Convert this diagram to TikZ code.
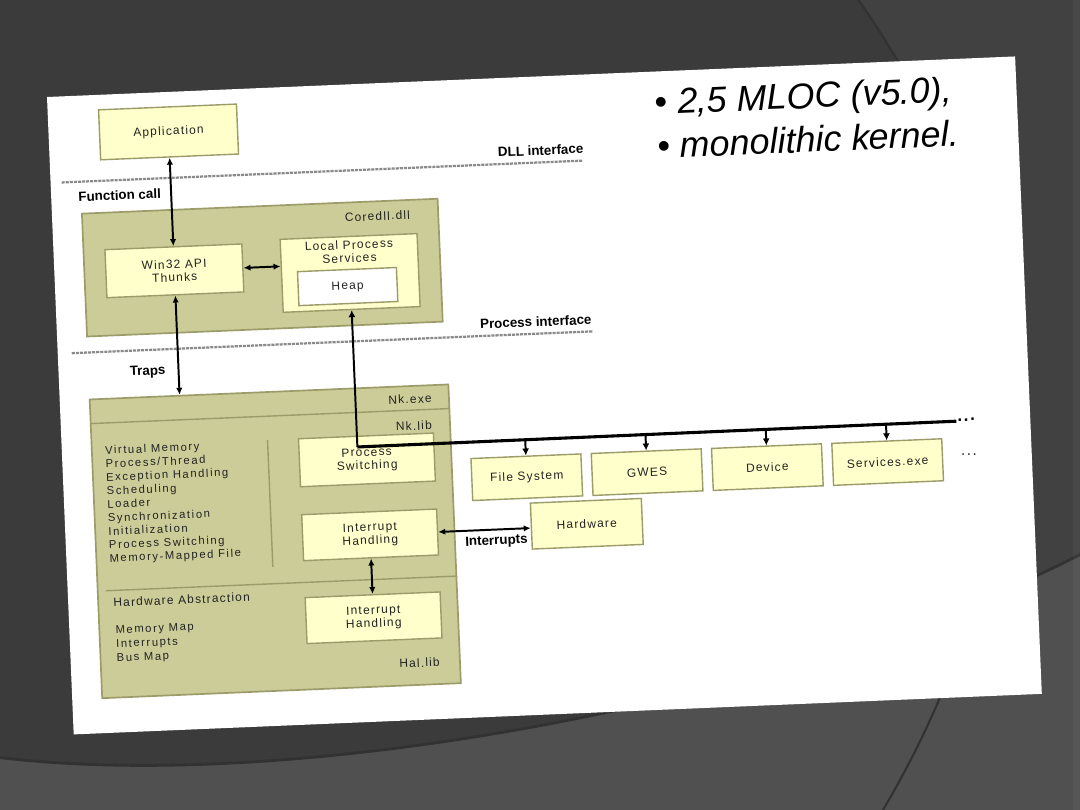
\documentclass[tikz,border=0pt]{standalone}
\usepackage{fontspec}
\setmainfont{Liberation Sans}
\newfontfamily\boxfont[LetterSpace=10]{Liberation Sans}
\newfontfamily\listfont[LetterSpace=14]{Liberation Sans}
\definecolor{WCEbg}{HTML}{3B3B3B}
\definecolor{WCEbgmid}{HTML}{414141}
\definecolor{WCEbglow}{HTML}{505050}
\definecolor{WCEedge}{HTML}{323232}
\definecolor{WCEtan}{HTML}{CCCC99}
\definecolor{WCEcream}{HTML}{FFFFCC}
\definecolor{WCEolive}{HTML}{9C9C6A}
\definecolor{WCEdash}{HTML}{8A8A8A}
\definecolor{WCEtext}{HTML}{222222}
\usetikzlibrary{arrows.meta, calc, positioning}
\tikzset{
  sz/.style 2 args={minimum width=#1*0.025cm, minimum height=#2*0.025cm},
  layerbox/.style={draw=WCEolive, fill=WCEtan, line width=1.2pt, inner sep=0pt},
  modbox/.style={draw=WCEolive, fill=WCEcream, line width=1pt, inner sep=0pt, align=center,
    text=WCEtext, font=\boxfont\fontsize{8.5}{9.4}\selectfont},
  modname/.style={inner sep=0pt, text=WCEtext, font=\boxfont\fontsize{8.5}{9.6}\selectfont},
  iflabel/.style={inner sep=0pt, font=\bfseries\fontsize{9.5}{11}\selectfont},
  iface/.style={WCEdash, line width=1.6pt, dash pattern=on 2.2pt off 0.7pt},
  sepline/.style={draw=WCEolive, line width=1pt},
  dbl/.style={line width=1.4pt, {Latex[length=5pt,width=4.5pt]}-{Latex[length=5pt,width=4.5pt]}},
  call/.style={line width=1.4pt, -{Latex[length=5pt,width=5pt]}},
  bus/.style={line width=2.2pt}
}
\begin{document}
\begin{tikzpicture}[x=0.025cm, y=-0.025cm]
  \useasboundingbox (0,0) rectangle (1080,810);
  % Slide background
  \fill[WCEbg] (-5,-5) rectangle (1085,815);
  \fill[WCEbgmid] (855,-5) .. controls (1000,200) and (1080,480) .. (880,815)
     -- (1085,815) -- (1085,-5) -- cycle;
  \fill[WCEbglow] (-5,757) .. controls (300,795) and (800,700) .. (1085,552)
     -- (1085,815) -- (-5,815) -- cycle;
  \draw[WCEedge, line width=2pt] (-5,757) .. controls (300,795) and (800,700) .. (1085,552);
  \draw[WCEedge, line width=1.5pt] (855,-5) .. controls (1000,200) and (1080,480) .. (880,815);
  \fill[white, opacity=0.04] (1073,-5) rectangle (1085,815);
  % Tilted sheet
  \begin{scope}[shift={(47,97)}, rotate=2.4, transform shape]
    \fill[white] (0,0) rectangle (969,638);
    % Bullets
    \node[anchor=base west, inner sep=0pt, font=\fontsize{25.5}{31}\selectfont] (mlocA) at (607,43)
       {\textbullet{} \textit{2,5 MLOC (v5.0),}};
    \node[anchor=base west, inner sep=0pt, font=\fontsize{25.5}{31}\selectfont] (mlocB) at (608,87)
       {\textbullet{} \textit{monolithic kernel.}};
    % Interfaces
    \draw[iface] (11,86) -- (533,86);
    \node[iflabel, anchor=east] (dllif) at (534,74) {DLL interface};
    \node[iflabel, anchor=west] (fcall) at (27,101) {Function call};
    \draw[iface] (14,257) -- (536,257);
    \node[iflabel, anchor=east] (procif) at (535,245) {Process interface};
    \node[iflabel, anchor=west] (traps) at (71,279) {Traps};
    % Application
    \node[modbox, sz={138}{50}] (app) at (120,40) {Application};
    % Coredll.dll
    \node[layerbox, sz={356}{123}] (core) at (208,179.5) {};
    \node[modname, anchor=east] (corename) at (358,133) {Coredll.dll};
    \node[modbox, sz={137}{48}] (win) at (120,179) {Win32 API\\Thunks};
    \node[modbox, sz={137}{73}] (lps) at (295.5,188.5) {};
    \node[modname, align=center, font=\boxfont\fontsize{8.5}{9.4}\selectfont] (lpsname) at (295.5,167)
       {Local Process\\Services};
    \node[modbox, fill=white, sz={99}{34}] (heap) at (292.5,202) {Heap};
    % Nk.exe
    \node[layerbox, sz={359}{299}] (nk) at (209.5,453.5) {};
    \node[modname, anchor=east] (nkexe) at (372,317) {Nk.exe};
    \draw[sepline] ($(nk.north west)+(0,25)$) -- ($(nk.north east)+(0,25)$);
    \node[modname, anchor=east] (nklib) at (371,344) {Nk.lib};
    \draw[sepline] (206,352) -- (206,479);
    \node[modname, anchor=north west, align=left, font=\listfont\fontsize{8}{9.6}\selectfont] (nkfuncs) at (43,351)
       {Virtual Memory\\Process/Thread\\Exception Handling\\Scheduling\\Loader\\%
        Synchronization\\Initialization\\Process Switching\\Memory-Mapped File};
    \node[modbox, sz={135}{48}] (ps) at (304.5,376) {Process\\Switching};
    \node[modbox, sz={135}{46}] (ih) at (304.5,451) {Interrupt\\Handling};
    % Hal.lib
    \draw[sepline] ($(nk.south west)+(9,-108)$) -- ($(nk.south east)+(0,-108)$);
    \node[modname, anchor=west] (halname) at (45,508) {Hardware Abstraction};
    \node[modname, anchor=north west, align=left, font=\listfont\fontsize{8}{10}\selectfont] (halfuncs) at (46,531)
       {Memory Map\\Interrupts\\Bus Map};
    \node[modbox, sz={135}{46}] (halih) at (304.5,534) {Interrupt\\Handling};
    \node[modname, anchor=east] (hallib) at (369,581) {Hal.lib};
    % Processes
    \node[modbox, sz={110}{42}] (fs) at (463.5,400) {File System};
    \node[modbox, sz={110}{42}, right=0.225cm of fs] (gwes) {GWES};
    \node[modbox, sz={110}{42}, right=0.225cm of gwes] (dev) {Device};
    \node[modbox, sz={110}{42}, right=0.225cm of dev] (svc) {Services.exe};
    \node[inner sep=0pt, anchor=west, font=\boxfont\bfseries\fontsize{12}{12}\selectfont] (busdots) at (896,361) {...};
    \node[inner sep=0pt, anchor=west, text=WCEtext, font=\boxfont\fontsize{11}{11}\selectfont] (rowdots) at (898,396) {...};
    \node[modbox, sz={111}{46}] (hw) at (521.5,449) {Hardware};
    \node[iflabel, anchor=east] (irqs) at (462,463) {Interrupts};
    % Calls
    \draw[dbl] (app.south) -- (win.north);
    \draw[dbl] (win.east) -- ($(lps.north west)!(win.east)!(lps.south west)$);
    \draw[dbl] (win.south) -- ($(nk.north west)!(win.south)!(nk.north east)$);
    \draw[dbl] (ih.south) -- (halih.north);
    \draw[dbl] (ih.east) -- ($(hw.north west)!(ih.east)!(hw.south west)$);
    % Bus to the processes
    \coordinate (buscorner) at ($(lps.south)+(0,137)$);
    \coordinate (busend) at (895,362);
    \draw[call] (buscorner) -- (lps.south);
    \draw[bus] (buscorner) -- (busend);
    \draw[call] ($(buscorner)!(fs.north)!(busend)$) -- (fs.north);
    \draw[call] ($(buscorner)!(gwes.north)!(busend)$) -- (gwes.north);
    \draw[call] ($(buscorner)!(dev.north)!(busend)$) -- (dev.north);
    \draw[call] ($(buscorner)!(svc.north)!(busend)$) -- (svc.north);
  \end{scope}
\end{tikzpicture}
\end{document}
